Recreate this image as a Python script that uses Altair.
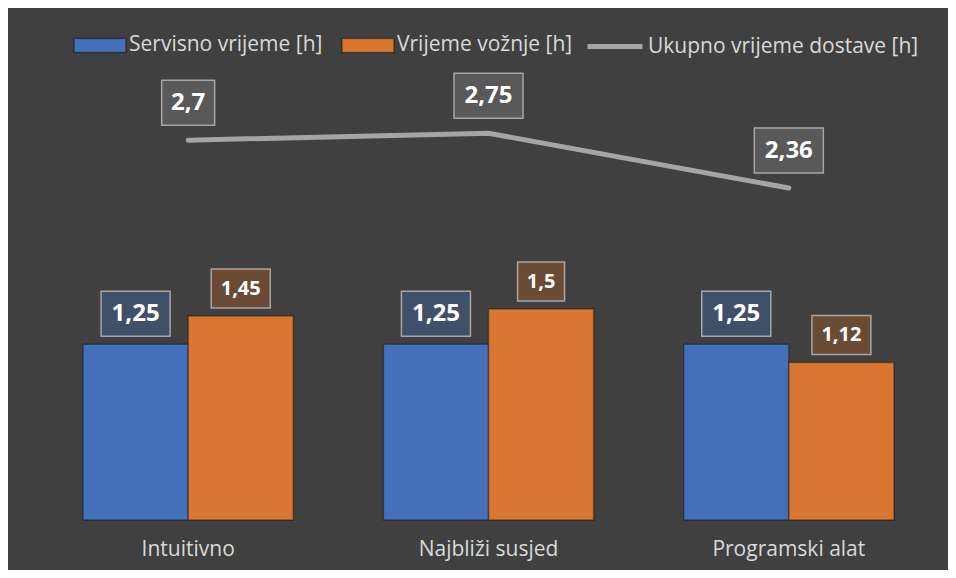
import altair as alt
import pandas as pd

categories = ["Intuitivno", "Najbliži susjed", "Programski alat"]
bar_series = ["Servisno vrijeme [h]", "Vrijeme vožnje [h]"]
line_series = ["Ukupno vrijeme dostave [h]"]
servisno = [1.25, 1.25, 1.25]
voznja = [1.45, 1.5, 1.12]
ukupno = [2.7, 2.75, 2.36]

bars_df = pd.DataFrame(
    [{"category": c, "series": bar_series[0], "value": v} for c, v in zip(categories, servisno)]
    + [{"category": c, "series": bar_series[1], "value": v} for c, v in zip(categories, voznja)]
)
line_df = pd.DataFrame(
    [{"category": c, "series": line_series[0], "value": v} for c, v in zip(categories, ukupno)]
)

FONT = "Open Sans"
BLUE = "#4470BA"
ORANGE = "#D97631"


def box(w, h):
    a, b = w / 70, h / 70
    return f"M{-a:.3f},{-b:.3f}L{a:.3f},{-b:.3f}L{a:.3f},{b:.3f}L{-a:.3f},{b:.3f}Z"


x_enc = alt.X(
    "category:N",
    sort=categories,
    scale=alt.Scale(paddingInner=0.3, paddingOuter=0.15),
    axis=alt.Axis(
        title=None, labelAngle=0, ticks=False, domain=False, grid=False,
        labelFont=FONT, labelFontSize=21, labelColor="#d9d9d9", labelPadding=18,
    ),
)
xoff = alt.XOffset("series:N", sort=bar_series, scale=alt.Scale(paddingInner=0, paddingOuter=0))
y_enc = alt.Y("value:Q", scale=alt.Scale(domain=[0, 3], nice=False), axis=None)

label_calc = dict(label="replace(toString(datum.value), '.', ',')", w="length(replace(toString(datum.value), '.', ',')) + ''")

bars = alt.Chart(bars_df).mark_bar(stroke="black", strokeOpacity=0.35, strokeWidth=1.5).encode(
    x=x_enc,
    xOffset=xoff,
    y=y_enc,
    color=alt.Color(
        "series:N",
        scale=alt.Scale(domain=bar_series, range=[BLUE, ORANGE]),
        legend=alt.Legend(
            title=None, orient="none", legendX=35, legendY=-80, direction="horizontal",
            symbolType="M-1,-0.27L1,-0.27L1,0.27L-1,0.27Z", symbolSize=2704,
            symbolStrokeColor="rgba(0,0,0,0.4)", symbolStrokeWidth=1.5, symbolOpacity=1,
            labelFont=FONT, labelFontSize=21, labelColor="#d9d9d9", labelOffset=2,
            columnPadding=16, padding=0, labelLimit=400,
        ),
    ),
)

line = alt.Chart(line_df).mark_line(strokeWidth=5, strokeCap="round").encode(
    x=x_enc,
    y=y_enc,
    color=alt.Color(
        "series:N",
        scale=alt.Scale(domain=line_series, range=["#a5a5a5"]),
        legend=alt.Legend(
            title=None, orient="none", legendX=547, legendY=-81.5, direction="horizontal",
            symbolType="stroke", symbolSize=3025, symbolStrokeWidth=5,
            labelFont=FONT, labelFontSize=21, labelColor="#d9d9d9", labelOffset=3,
            padding=0, labelLimit=400,
        ),
    ),
)


def label_layers(df, series, fill, yoff, font_size, wide, narrow, with_offset):
    base = alt.Chart(df).transform_filter(alt.datum.series == series).transform_calculate(**label_calc)
    enc = dict(x=x_enc, y=y_enc)
    if with_offset:
        enc["xOffset"] = xoff
    boxes = base.mark_point(
        filled=True, size=4900, fill=fill, fillOpacity=1, opacity=1,
        stroke="#a6a6a6", strokeWidth=1.5, yOffset=yoff,
    ).encode(
        shape=alt.Shape("w:N", scale=alt.Scale(domain=["4", "3"], range=[wide, narrow]), legend=None),
        **enc,
    )
    texts = base.mark_text(
        font=FONT, fontSize=font_size, fontWeight="bold", color="white",
        baseline="middle", dy=yoff,
    ).encode(text="label:N", **enc)
    return [boxes, texts]


layers = [bars, line]
layers += label_layers(bars_df, bar_series[0], "#415069", -30.5, 24, box(69, 45), box(53, 45), True)
layers += label_layers(bars_df, bar_series[1], "#6C4B34", -27.5, 20, box(59, 39), box(47, 39), True)
layers += label_layers(line_df, line_series[0], "#595959", -37.5, 24, box(69, 45), box(53, 45), False)

chart = (
    alt.layer(*layers)
    .resolve_scale(color="independent", shape="independent")
    .properties(
        width=901, height=422,
        autosize=alt.AutoSizeParams(type="none"),
        padding={"left": 30, "top": 90, "right": 9, "bottom": 50},
        background="#404040",
    )
    .configure_view(stroke=None)
)

chart.save("out.html", embed_options={"renderer": "svg", "actions": False})
